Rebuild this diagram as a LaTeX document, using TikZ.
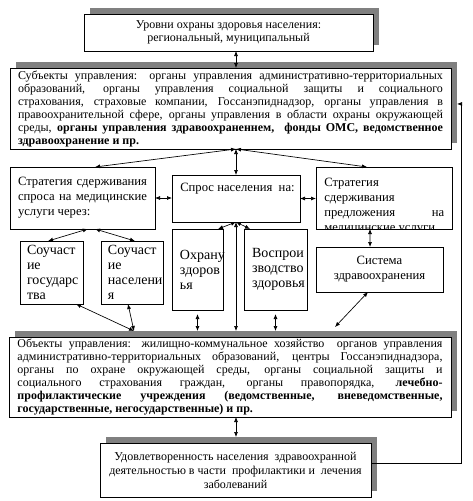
\documentclass[tikz,border=0pt]{standalone}
\usepackage{fontspec}
\setmainfont{Liberation Serif}
\usetikzlibrary{arrows.meta,shadows,calc}
\tolerance=10000
\hyphenpenalty=10000
\exhyphenpenalty=10000
\begin{document}
\begin{tikzpicture}[x=0.75pt,y=-0.75pt,
  box/.style={draw, line width=0.6pt, fill=white, anchor=north west, inner sep=0pt, outer sep=0pt},
  shadowbox/.style={box, drop shadow={shadow xshift=4.5pt, shadow yshift=4.5pt, fill=black!50, opacity=1}},
  big/.style={font=\fontsize{9}{9.75}\selectfont},
  small/.style={font=\fontsize{9.5}{11.25}\selectfont},
  narrow/.style={font=\fontsize{10.5}{11.25}\selectfont},
  dbl/.style={{Latex[length=3.75pt,width=3pt]}-{Latex[length=3.75pt,width=3pt]}, line width=0.5pt}]
\useasboundingbox (0,0) rectangle (473,501);

% top levels
\node[shadowbox, big, minimum width=216.75pt, minimum height=27.75pt, align=center] (lvl) at (84,14) {Уровни охраны здоровья населения:\\ региональный, муниципальный};

\node[shadowbox, big, minimum width=330.75pt, minimum height=60.75pt, text width=318.75pt, align=justify] (subj) at (10,68) {Субъекты управления: органы управления административно-территориальных\linebreak образований, органы управления социальной защиты и социального\linebreak страхования, страховые компании, Госсанэпиднадзор, органы управления в\linebreak правоохранительной сфере, органы управления в области охраны окружающей\linebreak среды, \textbf{органы управления здравоохраненнем,\ \ фонды ОМС, ведомственное\linebreak здравоохранение и пр.}};

% middle row
\node[box, small, minimum width=108.75pt, minimum height=46.5pt, text width=96.75pt, align=justify] (dem1) at (10,167) {Стратегия сдерживания\linebreak спроса на медицинские\linebreak услуги через:};

\node[box, minimum width=96pt, minimum height=35.25pt] (dem) at (172,175) {};
\node[small, anchor=north west, inner sep=0pt] (demtext) at ($(dem.north west)+(6pt,-6pt)$) {Спрос населения\ \ на:};

\node[box, minimum width=102pt, minimum height=46.5pt] (sup) at (316,167) {};
\begin{scope}
\clip (sup.north west) rectangle (sup.south east);
\node[small, anchor=north west, inner sep=0pt, text width=90pt, align=justify] (suptext) at ($(sup.north west)+(6pt,-8pt)$) {Стратегия\linebreak сдерживания\linebreak предложения на\linebreak медицинские услуги};
\end{scope}

\node[box, narrow, minimum width=47.25pt, minimum height=47.25pt, text width=36.75pt, align=left] (gos) at (20,241) {Соучаст\\ие\\государс\\тва};
\node[box, narrow, minimum width=46.5pt, minimum height=47.25pt, text width=36pt, align=left] (nas) at (101,241) {Соучаст\\ие\\населени\\я};
\node[box, narrow, minimum width=38.25pt, minimum height=60.75pt, text width=26.25pt, align=left] (ohr) at (172,229) {Охрану\\здоров\\ья};
\node[box, narrow, minimum width=47.25pt, minimum height=60.75pt, text width=35.25pt, align=left] (vos) at (244,229) {Воспрои\\зводство\\здоровья};
\node[box, small, minimum width=95.25pt, minimum height=33.75pt, align=center] (sys) at (316,247) {Система\\здравоохранения};

% bottom
\node[shadowbox, big, minimum width=331.5pt, minimum height=60pt, text width=318.75pt, align=justify] (obj) at (9,337) {Объекты управления: жилищно-коммунальное хозяйство\ \ органов управления\linebreak административно-территориальных образований, центры Госсанэпиднадзора,\linebreak органы по охране окружающей среды, органы социальной защиты и\linebreak социального страхования граждан, органы правопорядка, \textbf{лечебно-\linebreak профилактические учреждения (ведомственные, вневедомственные,\linebreak государственные, негосударственные) и пр.}};

\node[shadowbox, font=\fontsize{9}{10.5}\selectfont, minimum width=203.25pt, minimum height=40.5pt, align=center] (sat) at (100,443) {Удовлетворенность населения\ \ здравоохранной\\ деятельностью в части\ \ профилактики и\ \ лечения\\ заболеваний};

% arrows
\draw[dbl] (lvl.south -| dem.north) -- (subj.north -| dem.north);
\draw[dbl] (subj.south -| dem.north) -- ([xshift=9.4pt]dem1.north);
\draw[dbl] (subj.south -| dem.north) -- (dem.north);
\draw[dbl] (subj.south -| dem.north) -- ([xshift=-12.75pt]sup.north);
\draw[dbl] (dem1.east) -- (dem1.east -| dem.west);
\draw[dbl] (dem.east) -- (dem.east -| sup.west);
\draw[dbl] ([xshift=4pt]dem1.south) -- ([xshift=-2.6pt]gos.north);
\draw[dbl] ([xshift=9.4pt]dem1.south) -- ([xshift=2.25pt]nas.north);
\draw[dbl] (dem.south) -- ([xshift=15.4pt]ohr.north);
\draw[dbl] (dem.south) -- ([xshift=-19.1pt]vos.north);
\draw[dbl] (dem.south) -- ($(obj.north -| dem.south)+(0,4.5pt)$);
\draw[dbl] ($(ohr.south)+(0,-3pt)$) -- ($(obj.north -| ohr.south)+(0,4.5pt)$);
\draw[dbl] ($(vos.south)+(0,-3pt)$) -- ($(obj.north -| vos.south)+(0,4.5pt)$);
\draw[dbl] ([xshift=18.4pt]gos.south) -- ($(obj.north west)+(93.75pt,4.5pt)$);
\draw[dbl] ([xshift=-3pt]nas.south) -- ($(obj.north west)+(93.75pt,4.5pt)$);
\draw[dbl] ([xshift=-10.5pt]sup.south) -- ([xshift=-7.1pt]sys.north);
\draw[dbl] ([xshift=-8.6pt]sys.south) -- ($(obj.north west)+(244.5pt,7.5pt)$);
\draw[dbl] (obj.south -| dem.south) -- ($(sat.north -| dem.south)+(0,4.5pt)$);
\draw[-{Latex[length=3.75pt,width=3pt]}, line width=0.5pt] ($(sat.east)+(0,5.25pt)$) -| ($(subj.east)+(7.5pt,3.4pt)$) -- ($(subj.east)+(4.5pt,3.4pt)$);
\end{tikzpicture}
\end{document}
